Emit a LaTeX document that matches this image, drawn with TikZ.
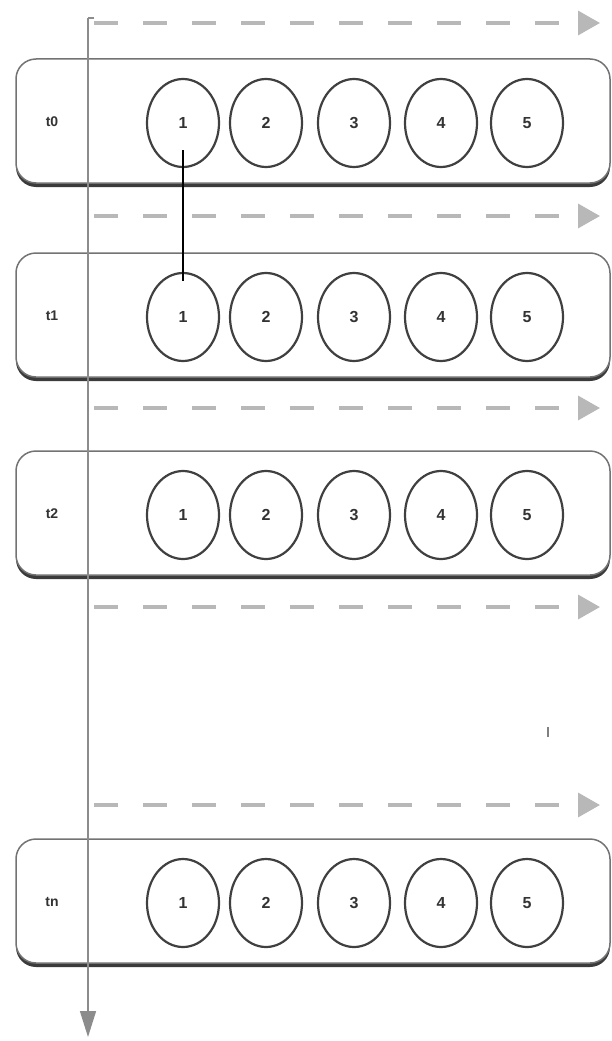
\documentclass[tikz,border=0pt]{standalone}
\usepackage{fontspec}
\setmainfont{Liberation Sans}
\usetikzlibrary{shadows,arrows.meta,shapes.geometric}
\begin{document}
\begin{tikzpicture}[x=1pt,y=-1pt,
  rowbox/.style={draw=black!55, line width=1.5pt, rounded corners=20pt, fill=white,
    minimum width=594pt, minimum height=124pt, inner sep=0pt,
    drop shadow={shadow xshift=0pt, shadow yshift=-4pt, fill=black!85, opacity=0.9}},
  cell/.style={ellipse, draw=black!75, line width=2.2pt, fill=white,
    minimum width=72pt, minimum height=88pt, inner sep=0pt,
    font=\fontsize{16}{16}\selectfont\bfseries, text=black!80},
  rowlabel/.style={font=\fontsize{14}{14}\selectfont\bfseries, text=black!80},
  timeline/.style={draw=black!45, line width=1.5pt, -{Triangle[length=26pt,width=16pt]}},
  dasharrow/.style={draw=black!28, line width=3.5pt, dash pattern=on 24pt off 25pt,
    -{Triangle[length=22pt,width=24pt]}},
  link/.style={draw=black, line width=1.4pt}
]
\useasboundingbox (0,0) rectangle (612,1041);

% row boxes
\node[rowbox] (box0) at (313,121) {};
\node[rowbox] (box1) at (313,315) {};
\node[rowbox] (box2) at (313,513) {};
\node[rowbox] (boxn) at (313,901) {};

% labels
\node[rowlabel] (l0) at (52,122) {t0};
\node[rowlabel] (l1) at (52,316) {t1};
\node[rowlabel] (l2) at (52,514) {t2};
\node[rowlabel] (ln) at (52,902) {tn};

% cells
\foreach \r/\y in {0/123, 1/317, 2/515, n/903} {
  \foreach \i/\x in {1/183, 2/266, 3/354, 4/441, 5/527} {
    \node[cell] (c\r\i) at (\x,\y) {\i};
  }
}

% dashed arrows
\foreach \k/\y in {0/23, 1/216, 2/408, 3/607, 4/805} {
  \coordinate (ds\k) at (94,\y);
  \coordinate (de\k) at (600,\y);
  \draw[dasharrow] (ds\k) -- (de\k);
}

% time axis
\coordinate (axtop) at (88,18);
\coordinate (axhook) at (94,18);
\coordinate (axbot) at (88,1037);
\draw[black!45, line width=1.5pt] (axhook) -- (axtop);
\draw[timeline] (axtop) -- (axbot);

% link between t0/1 and t1/1
\draw[link] ([yshift=-27pt]c01.center) -- ([yshift=36pt]c11.center);

% small mark
\coordinate (m1) at (548,727);
\coordinate (m2) at (548,737);
\draw[black!50, line width=1.5pt] (m1) -- (m2);
\end{tikzpicture}
\end{document}
